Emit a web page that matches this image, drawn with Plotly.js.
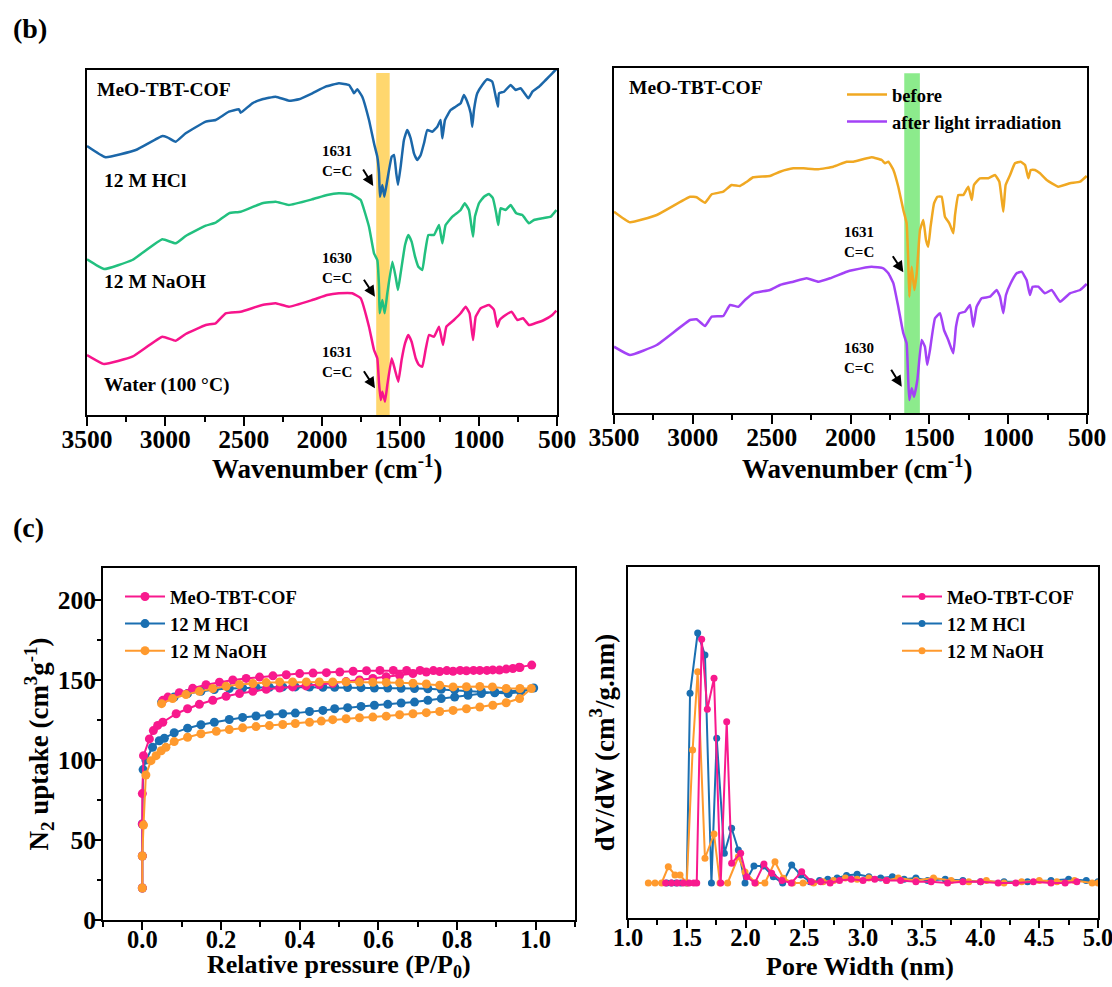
<!DOCTYPE html>
<html><head><meta charset="utf-8">
<script src="https://cdn.plot.ly/plotly-3.0.1.min.js"></script>
<style>html,body{margin:0;padding:0;background:#fff}#chart{width:1112px;height:987px}</style>
</head><body><div id="chart"></div>
<script>
// ---------- (b) FT-IR, left panel ----------
const wnHCl = [3500,3381,3189,3019,2987,2934,2870,2742,2679,2594,2530,2519,2445,2381,2296,2211,2147,2062,1977,1892,1828,1807,1796,1775,1743,1700,1668,1647,1636,1630,1615,1602,1583,1555,1540,1526,1515,1498,1477,1456,1434,1413,1392,1370,1349,1328,1296,1264,1243,1232,1215,1179,1147,1115,1094,1073,1051,1041,1030,1009,977,945,913,891,877,870,838,796,764,732,683,657,615,572,530,500];
const tHCl = [269,257.7,265,279,277.7,273.3,281.7,293.3,295,303.3,305.7,302.3,311.7,315.7,318.3,314.3,315.7,321.7,328.3,331.7,330,325,321.7,325.7,318.3,295,271.7,258.3,241.7,218.3,230,218.3,235,258.3,260,241.7,230,248.3,275,285,276.7,261.7,255,260,271.7,285,283.3,288.3,295,276.7,295,305,308.3,311.7,320,313.3,301.7,288.3,305,321.7,330,335.7,333.3,318.3,308.3,321.7,323.3,330,325,326.7,316.7,323.3,328.3,335,341.7,346.7];
const wnNaOH = [3500,3391,3211,3019,2934,2870,2742,2679,2594,2519,2381,2296,2211,2062,1967,1892,1817,1785,1753,1700,1668,1647,1636,1632,1615,1600,1583,1551,1530,1515,1498,1470,1449,1428,1406,1385,1360,1343,1321,1285,1253,1232,1211,1168,1115,1089,1062,1036,1024,998,966,934,909,888,875,860,828,796,760,721,679,647,594,540,504];
const tNaOH = [155.7,146,155,175.7,171.7,179,189.3,192.3,201.7,203.3,211.7,213.3,210,215.7,220,221.7,221,218.3,215,188.3,161.7,155,128.3,101.7,115,101.7,121.7,153.3,138.3,125,141.7,170,180,173.3,158.3,148.3,145,161.7,180,180,190,171.7,190,198.3,205,211.7,205,178.3,198.3,211.7,218.3,221,216.7,201.7,190,206.7,205,210,201.7,200,191.7,195,196.7,198.3,205];
const wnWater = [3500,3391,3211,3019,2934,2870,2742,2679,2615,2519,2381,2296,2211,2062,1967,1892,1807,1753,1700,1668,1647,1636,1625,1615,1598,1583,1555,1534,1513,1492,1470,1449,1428,1402,1381,1360,1339,1317,1285,1253,1228,1206,1158,1115,1083,1058,1036,1019,987,934,902,881,866,828,790,753,717,679,640,583,530,504];
const tWater = [60,51,58.3,78.3,74.3,81,90,91.7,101.7,103.3,110,111.7,108.3,115,120,121.7,121.7,116.7,88.3,65,56.7,31.7,15,23.3,13.3,30,56.7,45,33.3,55,71.7,80,73.3,56.7,50,48.3,65,80,78.3,88.3,70,88.3,95,101.7,108.3,101.7,75,98.3,106.7,110,105,88.3,95,100,103.3,95,96.7,90,91.7,95,100,104.3];

// ---------- (b) FT-IR, right panel ----------
const wnBefore = [3500,3399,3229,3018,2976,2923,2880,2807,2754,2701,2658,2617,2511,2447,2363,2299,2204,2109,2024,1982,1866,1802,1781,1760,1728,1697,1665,1644,1634,1627,1612,1595,1580,1559,1538,1521,1507,1492,1470,1449,1422,1401,1373,1348,1337,1316,1284,1253,1231,1217,1179,1126,1084,1056,1031,1016,988,957,921,893,872,857,830,798,756,682,608,544,502];
const tBefore = [201.3,190.7,198,216.3,215.7,210.3,218.7,221.3,228,227,231.3,235.7,237,241.3,244.7,244.7,243.7,246.3,251.3,251.3,255.7,253,249.7,251.3,243,226.3,203,189.7,153,116.3,146.3,123,139.7,183,193,173,166.3,186.3,209.7,216.3,216.3,196.3,189.7,179.7,198,218,218,226.3,213,228,234.7,234.7,238,231.3,201.3,228,238,249.7,251.3,248,234.7,243,243,239.7,233,226.3,229.7,231.3,237];
const wnAfter = [3500,3399,3229,3018,2976,2923,2880,2807,2764,2711,2669,2617,2511,2447,2363,2278,2204,2130,2024,1982,1866,1792,1760,1728,1697,1665,1644,1634,1627,1612,1597,1576,1549,1528,1513,1496,1464,1432,1407,1380,1348,1331,1310,1274,1242,1221,1200,1168,1115,1073,1052,1031,1014,984,946,915,883,862,845,809,767,724,671,608,544,502];
const tAfter = [66.3,58,68,93,93.7,87,96.3,97,108,106.3,113,119.7,123,128,131.3,134.7,131.3,134.7,141.3,143,146.3,144.7,139.7,129.7,106.3,79.7,69.7,33,13,24.7,16.3,33,73,66.3,48,63,94.7,99.7,83,73,59.7,86.3,99.7,101.3,108,86.3,106.3,114.7,116.3,123,116.3,99.7,118,129.7,139.7,141.3,133,118,126.3,126.3,119.7,123,111.3,119.7,123,129];

// ---------- (c) N2 isotherms (adsorption then desorption) ----------
const pCOF = [0,0,0,0,0.003,0.018,0.028,0.039,0.052,0.086,0.115,0.145,0.179,0.213,0.247,0.281,0.315,0.349,0.382,0.416,0.45,0.484,0.518,0.552,0.586,0.62,0.654,0.688,0.722,0.756,0.79,0.824,0.858,0.891,0.925,0.958,0.99,
              0.96,0.942,0.908,0.876,0.842,0.808,0.774,0.74,0.706,0.672,0.638,0.604,0.57,0.536,0.502,0.468,0.434,0.4,0.366,0.332,0.298,0.264,0.23,0.196,0.162,0.128,0.094,0.065,0.052];
const vCOF = [20,40,60,79,102.7,113.2,118.4,121.6,123.6,128.9,132,134.8,137.3,139.8,141.5,142.9,144.2,145,145.7,146.3,147,148,149,150,151,152,153,154,155,155.3,155.5,155.8,156,156.3,156.8,158,159.3,
              157.8,157.2,156.2,156,156,156,155.9,155.9,156,156,156,156,155.8,155.5,155,154.6,154.3,154,153.3,152.6,151.8,151,150,148.6,147,144.8,142,139.3,137.3];
const pHCl = [0,0,0,0.002,0.009,0.026,0.043,0.056,0.081,0.115,0.149,0.183,0.221,0.255,0.289,0.323,0.357,0.389,0.425,0.459,0.489,0.522,0.556,0.59,0.624,0.658,0.692,0.726,0.76,0.794,0.828,0.862,0.896,0.93,0.962,0.995,
              0.962,0.93,0.896,0.862,0.828,0.794,0.76,0.726,0.692,0.658,0.624,0.59,0.556,0.522,0.489,0.459,0.425,0.389,0.357,0.323,0.289,0.255,0.221,0.183,0.149,0.115,0.081,0.049];
const vHCl = [20,40,60,94,100,108,112,113.6,117,119.9,122,123.6,125.3,126.6,127.5,128.3,128.9,129.3,130.3,131,132,132.7,133.5,134.2,134.8,135.6,136.2,137.3,138.4,139.4,140.4,141.5,142.5,142.8,143.6,145,
              142.5,141.5,142,142.8,143.3,143.8,144.2,144.5,144.7,144.8,145,145,145.2,145.3,145.5,145.5,145.6,145.7,145.7,145.5,145.3,145,144.7,144,142.9,141.5,139.4,136.2];
const pNaOH = [0,0,0.003,0.009,0.022,0.035,0.048,0.06,0.081,0.115,0.149,0.188,0.221,0.255,0.289,0.323,0.357,0.389,0.425,0.455,0.484,0.518,0.552,0.586,0.62,0.654,0.688,0.722,0.756,0.79,0.824,0.858,0.891,0.925,0.959,0.989,
               0.96,0.925,0.89,0.858,0.824,0.79,0.756,0.722,0.688,0.654,0.62,0.586,0.552,0.518,0.484,0.45,0.417,0.382,0.349,0.315,0.281,0.247,0.213,0.179,0.145,0.111,0.077,0.049];
const vNaOH = [20,40,59.3,90.6,99.6,102.7,105.8,107.9,111.5,114.2,116.4,118,119,120.1,120.9,121.5,122.2,122.8,123.6,124.3,125.2,125.8,126.4,126.8,127.4,128.3,128.9,129.6,130.3,131,132,133.1,134.2,135.8,138.4,144.7,
               144.7,144.7,145.7,146,145.8,145.7,146.7,147.5,148,148.3,148.5,148.6,148.7,148.8,148.8,148.8,148.8,148.8,148.8,148.4,147.8,147.2,146.1,144.7,142.9,140.9,138.4,135.2];

// ---------- (c) pore size distribution ----------
const wCOF = [1.32,1.37,1.42,1.47,1.52,1.56,1.585,1.627,1.675,1.732,1.789,1.84,1.882,1.959,2.01,2.08,2.157,2.223,2.31,2.39,2.478,2.56,2.64,2.72,2.8,2.9,3.0,3.1,3.2,3.32,3.45,3.58,3.72,3.85,4.0,4.15,4.3,4.45,4.6,4.72,4.82];
const dCOF = [0,0,0,0,0,0,0,0.975,0.695,0.819,0,0.645,0.079,0.119,0.025,0,0.076,0.039,0.01,0,0.045,0.005,0.005,0,0.01,0.015,0.01,0.015,0.01,0.01,0.005,0.005,0,0.005,0.005,0,0,0.005,0,0,0.005];
const wHCl = [1.33,1.37,1.41,1.45,1.5,1.528,1.593,1.655,1.71,1.755,1.82,1.882,1.939,1.996,2.072,2.152,2.237,2.316,2.393,2.47,2.55,2.63,2.7,2.78,2.86,2.95,3.05,3.15,3.25,3.35,3.45,3.55,3.7,3.85,4.0,4.2,4.4,4.6,4.75,4.9,5.0];
const dHCl = [0,0,0,0,0,0.759,1.0,0.912,0,0.579,0.119,0.219,0.132,0,0.068,0.068,0.025,0,0.072,0.032,0.005,0.01,0.015,0.02,0.03,0.035,0.025,0.02,0.025,0.015,0.02,0.01,0.015,0.01,0.005,0.005,0.005,0.01,0.015,0.01,0.005];
const wNaOH = [1.173,1.23,1.286,1.343,1.4,1.443,1.5,1.55,1.593,1.655,1.732,1.783,1.848,1.939,1.996,2.087,2.165,2.251,2.322,2.4,2.49,2.58,2.66,2.75,2.85,2.95,3.05,3.2,3.3,3.45,3.6,3.75,3.9,4.05,4.2,4.35,4.5,4.65,4.8,4.95,5.0];
const dNaOH = [0,0,0,0.065,0.032,0.032,0,0.532,0.845,0.099,0.196,0,0,0.105,0.044,0,0,0.085,0.019,0,0,0,0.005,0.01,0.02,0.015,0.02,0.01,0.02,0.01,0.02,0.01,0.005,0.01,0,0.005,0.01,0.005,0.01,0,0];

// ---------- text ----------
const xTitleIR = 'Wavenumber (cm<sup>-1</sup>)';
const xTitleIso = 'Relative pressure (P/P<sub>0</sub>)';
const xTitlePsd = 'Pore Width (nm)';
const yTitleIso = 'N<sub>2</sub> uptake (cm<sup>3</sup>g<sup>-1</sup>)';
const yTitlePsd = 'dV/dW (cm<sup>3</sup>/g.nm)';

// ---------- styling ----------
const FF = '"Liberation Serif", "Times New Roman", Times, serif';
const W = 1112, H = 987;
const px = v => v / W, py = v => 1 - v / H;
const cBlueIR = '#1b67a9', cGreenIR = '#22c07f', cPinkIR = '#f7148c';
const cBefore = '#f0a822', cAfter = '#a342f6';
const cPink = '#f8198d', cBlue = '#1a6fb1', cOrange = '#ff9a2e';

const irLine = (x, y, col, xa, ya, extra) => Object.assign({x, y, xaxis: xa, yaxis: ya, type: 'scatter', mode: 'lines',
  line: {color: col, width: 2.5, shape: 'spline', smoothing: 0.35}, showlegend: false, hoverinfo: 'skip'}, extra || {});
const mkTrace = (x, y, col, name, xa, ya, leg, rank, ms) => ({x, y, xaxis: xa, yaxis: ya, type: 'scatter', mode: 'lines+markers', name, legend: leg, legendrank: rank,
  line: {color: col, width: 2}, marker: {color: col, size: ms, symbol: 'circle'}});

const traces = [
  irLine(wnHCl, tHCl, cBlueIR, 'x', 'y'),
  irLine(wnNaOH, tNaOH, cGreenIR, 'x', 'y'),
  irLine(wnWater, tWater, cPinkIR, 'x', 'y'),
  irLine(wnBefore, tBefore, cBefore, 'x2', 'y2', {name: 'before', showlegend: true, legend: 'legend'}),
  irLine(wnAfter, tAfter, cAfter, 'x2', 'y2', {name: 'after light irradiation', showlegend: true, legend: 'legend'}),
  mkTrace(pHCl, vHCl, cBlue, '12 M HCl', 'x3', 'y3', 'legend2', 2, 9),
  mkTrace(pCOF, vCOF, cPink, 'MeO-TBT-COF', 'x3', 'y3', 'legend2', 1, 9),
  mkTrace(pNaOH, vNaOH, cOrange, '12 M NaOH', 'x3', 'y3', 'legend2', 3, 9),
  mkTrace(wHCl, dHCl, cBlue, '12 M HCl', 'x4', 'y4', 'legend3', 2, 7),
  mkTrace(wNaOH, dNaOH, cOrange, '12 M NaOH', 'x4', 'y4', 'legend3', 3, 7),
  mkTrace(wCOF, dCOF, cPink, 'MeO-TBT-COF', 'x4', 'y4', 'legend3', 1, 7)
];

const tickF = {family: FF, size: 25.5, color: 'black', weight: 'bold'};
const tickFB = {family: FF, size: 24.5, color: 'black', weight: 'bold'};
const titleF = {family: FF, size: 27, color: 'black', weight: 'bold'};
const frame = {showline: true, linecolor: 'black', linewidth: 2, mirror: true, showgrid: false, zeroline: false, fixedrange: true};
const minorT = (d, len) => ({dtick: d, ticks: 'outside', ticklen: len, tickwidth: 2, tickcolor: 'black', showgrid: false});
const irX = (dom, anchor) => Object.assign({}, frame, {domain: dom, anchor, range: [3500, 500], tickmode: 'linear', tick0: 500, dtick: 500,
  ticks: 'outside', ticklen: 9, tickwidth: 2, tickcolor: 'black', minor: minorT(250, 5), tickfont: tickF, ticklabelstandoff: -9, ticklabeloverflow: 'allow'});
const irY = (dom, anchor) => Object.assign({}, frame, {domain: dom, anchor, range: [0, 345], showticklabels: false, ticks: ''});

const legF = {family: FF, size: 18.5, color: 'black', weight: 'bold'};
const legBase = {xanchor: 'left', yanchor: 'top', bgcolor: 'rgba(0,0,0,0)', borderwidth: 0, font: legF, itemwidth: 40, tracegroupgap: 0, traceorder: 'normal'};

const txt = (t, x, y, xref, yref, size, xa, ya) => ({text: '<b>' + t + '</b>', x, y, xref, yref, showarrow: false, xanchor: xa || 'left', yanchor: ya || 'middle',
  font: {family: FF, size, color: 'black'}, align: 'center'});
const arrow = (x, y, xref, yref, ax, ay) => ({text: '', x, y, xref, yref, ax, ay, showarrow: true, arrowhead: 2, arrowsize: 1.1, arrowwidth: 2, arrowcolor: 'black', standoff: 0});

const annotations = [
  txt('(b)', px(11), py(28), 'paper', 'paper', 28),
  txt('(c)', px(11), py(527), 'paper', 'paper', 28),
  // x-axis titles
  txt(xTitleIR, px(327), py(467), 'paper', 'paper', 27, 'center'),
  txt(xTitleIR, px(857), py(467), 'paper', 'paper', 27, 'center'),
  txt(xTitleIso, px(339), py(966), 'paper', 'paper', 26, 'center'),
  txt(xTitlePsd, px(860), py(966), 'paper', 'paper', 26, 'center'),
  // left IR panel
  txt('MeO-TBT-COF', 3449, 325.5, 'x', 'y', 19.5),
  txt('12 M HCl', 3406, 235, 'x', 'y', 19.5),
  txt('12 M NaOH', 3406, 133.5, 'x', 'y', 19.5),
  txt('Water (100 °C)', 3406, 30, 'x', 'y', 19.5),
  txt('1631<br>C=C', 1904, 254, 'x', 'y', 15, 'center'),
  txt('1630<br>C=C', 1904, 147.5, 'x', 'y', 15, 'center'),
  txt('1631<br>C=C', 1904, 53, 'x', 'y', 15, 'center'),
  arrow(1673, 229, 'x', 'y', -11, -18),
  arrow(1662, 118.3, 'x', 'y', -12, -18.5),
  arrow(1662, 26.7, 'x', 'y', -12, -18.5),
  // right IR panel
  txt('MeO-TBT-COF', 3419, 325.5, 'x2', 'y2', 19.5),
  txt('1631<br>C=C', 1946, 170.5, 'x2', 'y2', 15, 'center'),
  txt('1630<br>C=C', 1946, 55, 'x2', 'y2', 15, 'center'),
  arrow(1665, 140.7, 'x2', 'y2', -11.5, -17.5),
  arrow(1675, 26.3, 'x2', 'y2', -11.5, -18.5)
];

const shapes = [
  {type: 'rect', xref: 'x', yref: 'y domain', x0: 1654, x1: 1568, y0: 0, y1: 0.991, fillcolor: '#ffd76e', line: {width: 0}, layer: 'below'},
  {type: 'rect', xref: 'x2', yref: 'y2 domain', x0: 1659, x1: 1560, y0: 0, y1: 0.985, fillcolor: '#8ceb8c', line: {width: 0}, layer: 'below'}
];

const layout = {
  width: W, height: H, margin: {l: 0, r: 0, t: 0, b: 0}, paper_bgcolor: 'white', plot_bgcolor: 'rgba(0,0,0,0)',
  font: {family: FF, color: 'black'},
  xaxis: irX([px(87), px(557)], 'y'),
  yaxis: irY([py(415), py(70)], 'x'),
  xaxis2: irX([px(614), px(1087)], 'y2'),
  yaxis2: irY([py(413), py(68)], 'x2'),
  xaxis3: Object.assign({}, frame, {domain: [px(103), px(575)], anchor: 'y3', range: [-0.1, 1.1], tickmode: 'linear', tick0: 0, dtick: 0.2, tickformat: '.1f',
    ticks: 'outside', ticklen: 8, tickwidth: 2, tickcolor: 'black', minor: minorT(0.1, 5), tickfont: tickFB, ticklabelstandoff: -11, ticklabeloverflow: 'allow'}),
  yaxis3: Object.assign({}, frame, {domain: [py(920), py(568)], anchor: 'x3', range: [0, 220], tickmode: 'linear', tick0: 0, dtick: 50,
    ticks: 'outside', ticklen: 7, tickwidth: 2, tickcolor: 'black', minor: minorT(25, 4), tickfont: tickF, ticklabelstandoff: -7,
    title: {text: yTitleIso, font: titleF, standoff: 0}}),
  xaxis4: Object.assign({}, frame, {domain: [px(628), px(1098)], anchor: 'y4', range: [1, 5], tickmode: 'linear', tick0: 1, dtick: 0.5, tickformat: '.1f',
    ticks: 'outside', ticklen: 8, tickwidth: 2, tickcolor: 'black', minor: minorT(0.25, 5), tickfont: tickFB, ticklabelstandoff: -11, ticklabeloverflow: 'allow'}),
  yaxis4: Object.assign({}, frame, {domain: [py(918), py(567)], anchor: 'x4', range: [-0.14, 1.264], showticklabels: false, ticks: '',
    title: {text: yTitlePsd, font: titleF, standoff: 4}}),
  legend: Object.assign({}, legBase, {x: px(842), y: py(76)}),
  legend2: Object.assign({}, legBase, {x: px(120), y: py(578)}),
  legend3: Object.assign({}, legBase, {x: px(897), y: py(578)}),
  annotations, shapes, showlegend: true
};

Plotly.newPlot('chart', traces, layout, {staticPlot: true, displayModeBar: false});
</script></body></html>
